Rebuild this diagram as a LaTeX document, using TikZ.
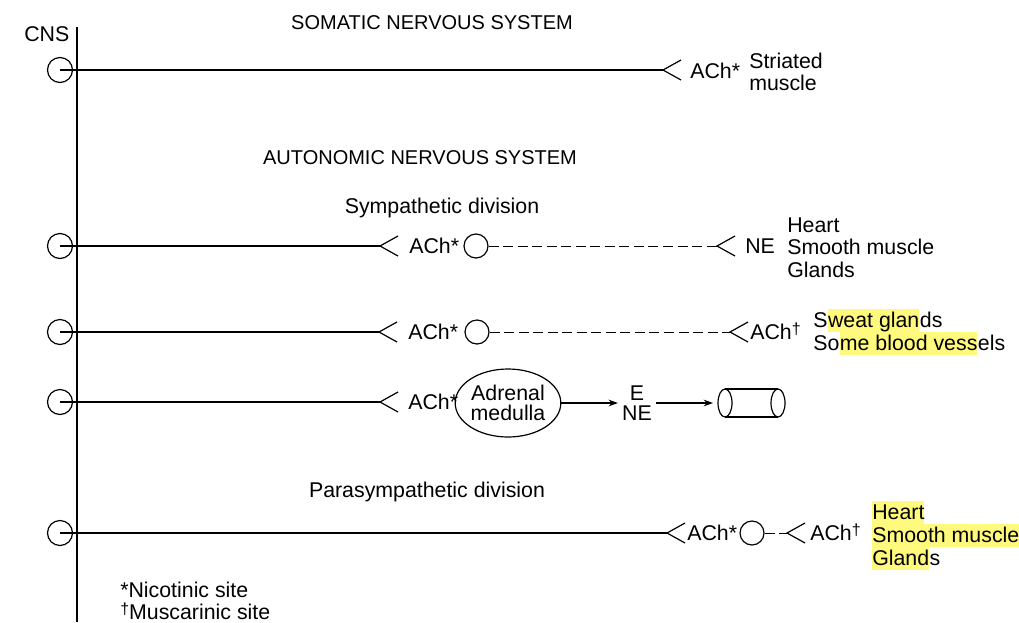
\documentclass[tikz,border=0pt]{standalone}
\usepackage{fontspec}
\setmainfont{Liberation Sans}
\usetikzlibrary{shapes.geometric,arrows.meta}
\definecolor{hlyellow}{RGB}{255,250,125}
\newcommand{\mainsz}{\fontsize{16}{17.3}\selectfont}
\newcommand{\titlesz}{\fontsize{15}{17}\selectfont}
\newcommand{\mydag}{\raisebox{3.5pt}{\fontsize{12}{12}\selectfont †}}
\tikzset{synfork/.pic={\draw[line width=0.9pt] (18,-10) -- (0,0) -- (18,10);}}
\begin{document}
\begin{tikzpicture}[x=0.75pt,y=-0.75pt,
  every node/.style={inner sep=0pt, font=\mainsz},
  lbl/.style={anchor=base west},
  ttl/.style={anchor=base, font=\titlesz},
  hlt/.style={anchor=base west, text height=14.2pt, text depth=3.05pt},
  hl/.style={hlt, fill=hlyellow},
  cns/.style={circle, draw, minimum size=18.75pt, line width=0.9pt},
  gang/.style={circle, draw, minimum size=18pt, line width=0.9pt},
  axon/.style={line width=0.9pt},
  post/.style={line width=0.7pt, dash pattern=on 7.5pt off 3.4pt},
  arr/.style={line width=0.9pt, -{Stealth[length=7pt,width=5pt]}}
]
\useasboundingbox (0,0) rectangle (1019,622);

% CNS axis
\coordinate (vtop) at (77,27);
\coordinate (vbot) at (77,622);
\draw[axon] (vtop) -- (vbot);
\node[lbl] (cnsl) at (24,41) {CNS};

% titles
\node[ttl] (som) at (432,29.5) {SOMATIC NERVOUS SYSTEM};
\node[ttl] (aut) at (420,164.5) {AUTONOMIC NERVOUS SYSTEM};
\node[anchor=base] (sym) at (442,213) {Sympathetic division};
\node[anchor=base] (par) at (427,497) {Parasympathetic division};

% Row 1: somatic
\node[cns] (c1) at (60,70) {};
\coordinate (f1) at (663,70);
\draw[axon] (c1.center) -- (f1);
\pic at (f1) {synfork};
\node[lbl] (a1) at (690,78) {ACh*};
\node[lbl] (t1a) at (749,68) {Striated};
\node[lbl] (t1b) at (749,90) {muscle};

% Row 2: sympathetic, NE
\node[cns] (c2) at (60,246) {};
\coordinate (f2) at (380,246);
\draw[axon] (c2.center) -- (f2);
\pic at (f2) {synfork};
\node[lbl] (a2) at (409,253.5) {ACh*};
\node[gang] (g2) at (476,246) {};
\coordinate (f2b) at (717,246);
\draw[post] (g2.east) -- (f2b);
\pic at (f2b) {synfork};
\node[lbl] (ne2) at (745,253.5) {NE};
\node[lbl] (t2a) at (787,232) {Heart};
\node[lbl] (t2b) at (787,254.5) {Smooth muscle};
\node[lbl] (t2c) at (787,277) {Glands};

% Row 3: sympathetic, ACh
\node[cns] (c3) at (60,332) {};
\coordinate (f3) at (379,332);
\draw[axon] (c3.center) -- (f3);
\pic at (f3) {synfork};
\node[lbl] (a3) at (408,339.5) {ACh*};
\node[gang] (g3) at (477,332) {};
\coordinate (f3b) at (730,332);
\draw[post] (g3.east) -- (f3b);
\pic at (f3b) {synfork};
\node[lbl] (m3) at (750,339.5) {ACh\mydag};
\node[hlt] (s1) at (813,327.5) {S};
\node[hl] (s2) at (s1.base east) {weat glan};
\node[hlt] (s3) at (s2.base east) {ds};
\node[hlt] (b1) at (813,350.5) {So};
\node[hl] (b2) at (b1.base east) {me blood vess};
\node[hlt] (b3) at (b2.base east) {els};

% Row 4: adrenal medulla
\node[cns] (c4) at (60,402) {};
\coordinate (f4) at (380,402);
\draw[axon] (c4.center) -- (f4);
\pic at (f4) {synfork};
\node[lbl] (a4) at (408,409.5) {ACh*};
\node[ellipse, draw, line width=0.9pt, minimum width=68pt, minimum height=51pt,
      align=center, font=\fontsize{16}{15}\selectfont] (adr) at (508,403) {Adrenal\\medulla};
\node[align=center, inner sep=3pt, font=\fontsize{16}{15}\selectfont] (ene) at (637,403) {E\\NE};
\draw[arr] (adr.east) -- (ene.west);
\coordinate (cylL) at (725,403);
\coordinate (cylR) at (778,403);
\coordinate (cylW) at (718,403);
\draw[arr, shorten >=3.75pt] (ene.east) -- (cylW);
\draw[axon] (cylL) ellipse (7 and 14);
\draw[axon] (cylR) ellipse (7 and 14);
\draw[axon] ([yshift=-10.5pt]cylL) -- ([yshift=-10.5pt]cylR);
\draw[axon] ([yshift=10.5pt]cylL) -- ([yshift=10.5pt]cylR);

% Row 5: parasympathetic
\node[cns] (c5) at (60,533) {};
\coordinate (f5) at (667,533);
\draw[axon] (c5.center) -- (f5);
\pic at (f5) {synfork};
\node[lbl] (a5) at (687,540.5) {ACh*};
\node[gang] (g5) at (752,533) {};
\coordinate (f5b) at (787,533);
\draw[post] (g5.east) -- (f5b);
\pic at (f5b) {synfork};
\node[lbl] (m5) at (810,540.5) {ACh\mydag};
\node[hl] (h1) at (872,519.5) {Heart};
\node[hl] (h2) at (872,542.5) {Smooth muscle};
\node[hl] (h3) at (872,565.5) {Gland};
\node[hlt] (h4) at (h3.base east) {s};

% footnotes
\node[lbl] (fn1) at (120,597) {*Nicotinic site};
\node[lbl] (fn2) at (120,619) {\mydag Muscarinic site};
\end{tikzpicture}
\end{document}
